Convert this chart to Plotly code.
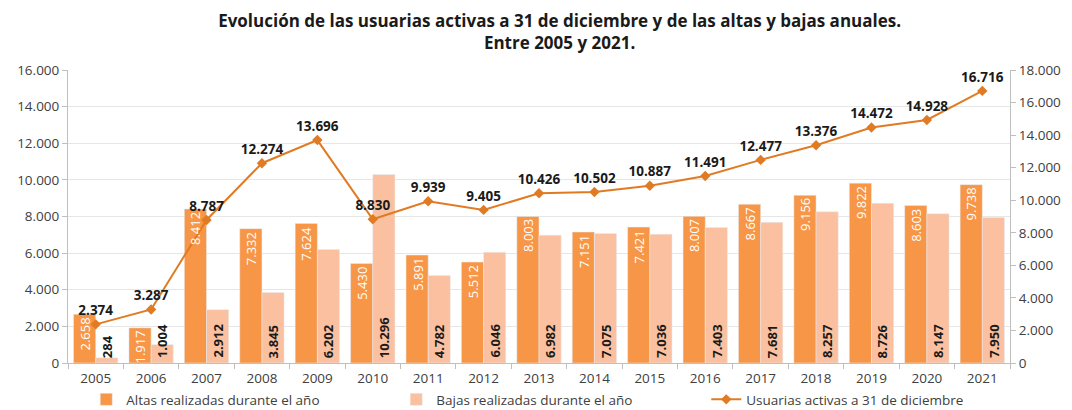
import plotly.graph_objects as go

years = [str(y) for y in range(2005, 2022)]
altas = [2658, 1917, 8412, 7332, 7624, 5430, 5891, 5512, 8003, 7151, 7421, 8007, 8667, 9156, 9822, 8603, 9738]
bajas = [284, 1004, 2912, 3845, 6202, 10296, 4782, 6046, 6982, 7075, 7036, 7403, 7681, 8257, 8726, 8147, 7950]
usuarias = [2374, 3287, 8787, 12274, 13696, 8830, 9939, 9405, 10426, 10502, 10887, 11491, 12477, 13376, 14472, 14928, 16716]

left_ticks = list(range(0, 16001, 2000))
right_ticks = list(range(0, 18001, 2000))

def fmt(v):
    return "{:,}".format(v).replace(",", ".")

FONT = "Open Sans"
C_ALTAS = "#F79646"
C_BAJAS = "#FAC09F"
C_LINE = "#E07B24"

fig = go.Figure()
fig.add_trace(go.Bar(x=years, y=altas, name="Altas realizadas durante el año",
                     marker_color=C_ALTAS, yaxis="y"))
fig.add_trace(go.Bar(x=years, y=bajas, name="Bajas realizadas durante el año",
                     marker_color=C_BAJAS, yaxis="y"))
fig.add_trace(go.Scatter(x=years, y=usuarias, name="Usuarias activas a 31 de diciembre",
                         mode="lines+markers+text", yaxis="y2",
                         line=dict(color=C_LINE, width=2),
                         marker=dict(symbol="diamond", size=8, color=C_LINE),
                         text=[fmt(v) for v in usuarias], textposition="top center",
                         textfont=dict(family=FONT, size=13.5, color="#1a1a1a", weight="bold")))

ann = []
for i, (a, b) in enumerate(zip(altas, bajas)):
    ann.append(dict(x=i, y=a, xref="x", yref="y", text=fmt(a), textangle=-90,
                    showarrow=False, xanchor="center", yanchor="top", xshift=-11, yshift=-1,
                    font=dict(family=FONT, size=13, color="white")))
    ann.append(dict(x=i, y=0, xref="x", yref="y", text="<b>" + fmt(b) + "</b>", textangle=-90,
                    showarrow=False, xanchor="center", yanchor="bottom", xshift=11, yshift=3,
                    font=dict(family=FONT, size=13, color="#1a1a1a")))

fig.update_layout(
    width=1072, height=410,
    margin=dict(l=68, r=62, t=70, b=47, autoexpand=False),
    paper_bgcolor="white", plot_bgcolor="white",
    separators=",.",
    barmode="group", bargap=0.2, bargroupgap=0,
    font=dict(family=FONT, size=13, color="#404040"),
    title=dict(text="<b>Evolución de las usuarias activas a 31 de diciembre y de las altas y bajas anuales.<br>Entre 2005 y 2021.</b>",
               x=0.522, xanchor="center", y=0.935, yanchor="top",
               font=dict(family=FONT, size=17, color="#1a1a1a")),
    xaxis=dict(type="category", range=[-0.5, len(years) - 0.5], showline=True, linecolor="#BFBFBF",
               ticks="outside", tickson="boundaries", tickcolor="#BFBFBF", ticklen=5, tickangle=0,
               ticklabelstandoff=3, tickfont=dict(size=13.5, color="#404040")),
    yaxis=dict(range=[0, 16000], tickvals=left_ticks, ticktext=[fmt(v) for v in left_ticks],
               showgrid=True, gridcolor="#E6E6E6", showline=True, linecolor="#BFBFBF",
               ticks="outside", tickcolor="#BFBFBF", ticklen=5, zeroline=False,
               tickfont=dict(size=13.5, color="#404040")),
    yaxis2=dict(range=[0, 18000], tickvals=right_ticks, ticktext=[fmt(v) for v in right_ticks],
                overlaying="y", side="right", showgrid=False, showline=True, linecolor="#BFBFBF",
                ticks="outside", tickcolor="#BFBFBF", ticklen=5, zeroline=False,
                tickfont=dict(size=13.5, color="#404040")),
    legend=dict(orientation="h", x=0.513, xanchor="center", y=-0.072, yanchor="top",
                bgcolor="rgba(0,0,0,0)",
                font=dict(size=13.5, color="#404040"), itemwidth=30,
                entrywidth=265, entrywidthmode="pixels", tracegroupgap=0),
    annotations=ann,
)

fig.write_html("out.html", config={"displayModeBar": False},
               post_script="document.body.style.margin='0';")
